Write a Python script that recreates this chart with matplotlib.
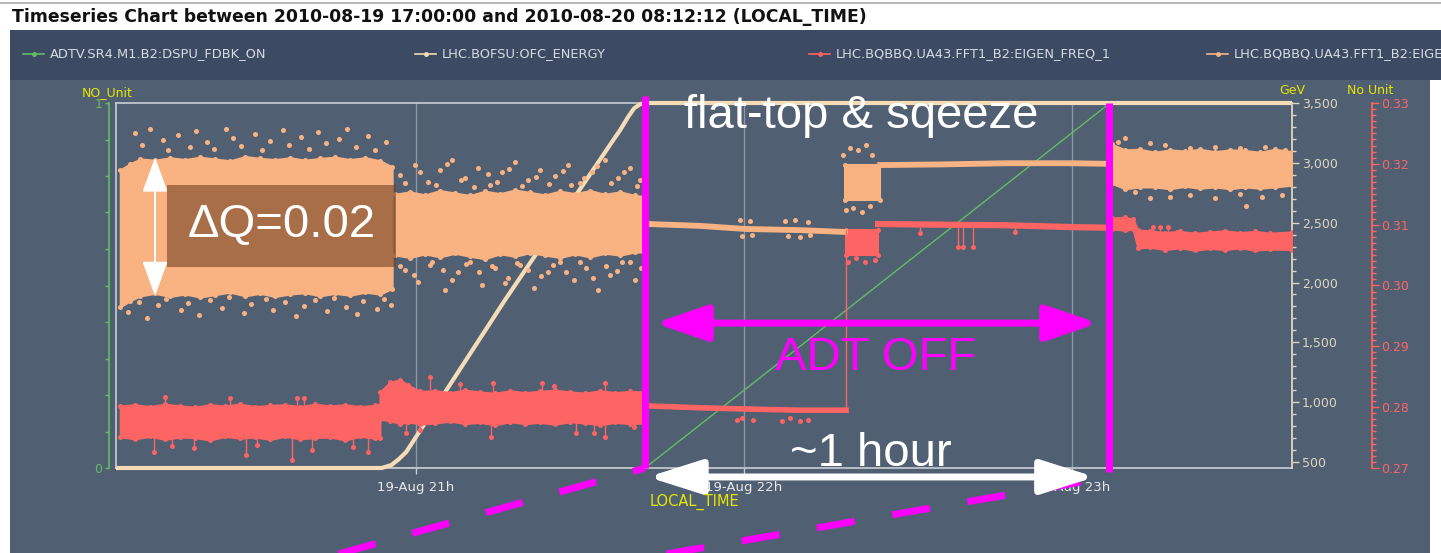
import numpy as np
import matplotlib
matplotlib.use("Agg")
import matplotlib.pyplot as plt
from matplotlib.lines import Line2D
from matplotlib.patches import Rectangle, FancyArrowPatch
from matplotlib.ticker import MultipleLocator, FixedLocator

## colours
PANEL    = "#515f73"
BAND     = "#3c4a63"
FRAME    = "#c9ced6"
GRID     = "#8e97a6"
YELLOW   = "#e6e600"
GREEN    = "#63bd63"
CREAM    = "#f3dcb6"
CREAM_AX = "#ddd6bf"
RED      = "#fd6464"
ORANGE   = "#f9b383"
MAGENTA  = "#ff00ff"
BIG_FONT = "Liberation Sans"

TITLE = "Timeseries Chart between 2010-08-19 17:00:00 and 2010-08-20 08:12:12 (LOCAL_TIME)"
SERIES = ["ADTV.SR4.M1.B2:DSPU_FDBK_ON", "LHC.BOFSU:OFC_ENERGY",
          "LHC.BQBBQ.UA43.FFT1_B2:EIGEN_FREQ_1", "LHC.BQBBQ.UA43.FFT1_B2:EIGEN_FREQ_2"]
SERIES_COLORS = [GREEN, CREAM, RED, ORANGE]

## time axis: hours of 19-Aug, local time
XLIM = (20.085, 23.671)
XTICKS = [21, 22, 23]
XTICK_LABELS = ["19-Aug 21h", "19-Aug 22h", "19-Aug 23h"]

## LHC.BOFSU:OFC_ENERGY [GeV]
ENERGY_T   = [20.085, 20.895, 20.925, 20.948, 20.970, 21.271, 21.601, 21.622, 21.646, 21.665, 21.683, 21.698, 23.671]
ENERGY_GEV = [450, 450, 475, 525, 584, 1853, 3189, 3272, 3381, 3456, 3490, 3500, 3500]

## ADTV.SR4.M1.B2:DSPU_FDBK_ON
FDBK_T  = [20.085, 21.698, 23.116, 23.671]
FDBK_ON = [0, 0, 1, 1]

## EIGEN_FREQ_2 (orange): bands are the dense envelope, *_HI/_LO the stray points
QV_A_T   = [20.098, 20.128, 20.159, 20.204, 20.250, 20.296, 20.341, 20.387, 20.433, 20.479,
            20.524, 20.570, 20.616, 20.662, 20.707, 20.753, 20.799, 20.845, 20.890, 20.927]
QV_A_TOP = [0.3190, 0.3200, 0.3208, 0.3206, 0.3210, 0.3207, 0.3211, 0.3208, 0.3205, 0.3212,
            0.3209, 0.3207, 0.3210, 0.3206, 0.3209, 0.3211, 0.3207, 0.3210, 0.3205, 0.3195]
QV_A_BOT = [0.2965, 0.2975, 0.2983, 0.2987, 0.2982, 0.2986, 0.2981, 0.2985, 0.2989, 0.2983,
            0.2987, 0.2982, 0.2986, 0.2988, 0.2983, 0.2987, 0.2984, 0.2989, 0.2986, 0.2995]
QV_A_HI_T = [20.143, 20.165, 20.189, 20.229, 20.244, 20.274, 20.311, 20.329, 20.363, 20.384,
             20.421, 20.442, 20.466, 20.509, 20.530, 20.555, 20.595, 20.613, 20.649, 20.674,
             20.701, 20.726, 20.765, 20.790, 20.817, 20.854, 20.875, 20.909]
QV_A_HI_Q = [0.3250, 0.3231, 0.3258, 0.3239, 0.3222, 0.3247, 0.3227, 0.3254, 0.3236, 0.3224,
             0.3257, 0.3242, 0.3229, 0.3249, 0.3222, 0.3237, 0.3255, 0.3231, 0.3244, 0.3224,
             0.3252, 0.3234, 0.3240, 0.3258, 0.3227, 0.3245, 0.3222, 0.3236]
QV_A_LO_T = [20.122, 20.155, 20.180, 20.213, 20.238, 20.284, 20.305, 20.338, 20.372, 20.409,
             20.430, 20.476, 20.497, 20.543, 20.564, 20.601, 20.634, 20.659, 20.692, 20.729,
             20.750, 20.787, 20.820, 20.838, 20.881, 20.902, 20.924]
QV_A_LO_Q = [0.2956, 0.2973, 0.2946, 0.2968, 0.2978, 0.2960, 0.2971, 0.2951, 0.2976, 0.2963,
             0.2981, 0.2955, 0.2969, 0.2978, 0.2960, 0.2973, 0.2950, 0.2966, 0.2976, 0.2958,
             0.2979, 0.2964, 0.2953, 0.2974, 0.2961, 0.2978, 0.2968]

QV_B_T   = [20.936, 20.982, 21.027, 21.073, 21.119, 21.165, 21.210, 21.256, 21.302,
            21.348, 21.393, 21.439, 21.485, 21.530, 21.576, 21.622, 21.668, 21.698]
QV_B_TOP = [0.3150, 0.3154, 0.3149, 0.3156, 0.3152, 0.3148, 0.3155, 0.3151, 0.3157,
            0.3153, 0.3149, 0.3155, 0.3151, 0.3156, 0.3150, 0.3154, 0.3148, 0.3146]
QV_B_BOT = [0.3050, 0.3046, 0.3052, 0.3047, 0.3053, 0.3048, 0.3044, 0.3052, 0.3048,
            0.3054, 0.3050, 0.3046, 0.3052, 0.3047, 0.3053, 0.3050, 0.3055, 0.3055]
QV_B_HI_T = [20.951, 20.997, 21.037, 21.073, 21.110, 21.149, 21.189, 21.226, 21.262, 21.302,
             21.341, 21.378, 21.424, 21.463, 21.500, 21.537, 21.576, 21.616, 21.652, 21.683,
             20.966, 21.012, 21.061, 21.095, 21.137, 21.177, 21.220, 21.247, 21.284, 21.323,
             21.366, 21.405, 21.448, 21.473, 21.512, 21.552, 21.595, 21.634, 21.674]
QV_B_HI_Q = [0.3181, 0.3198, 0.3170, 0.3190, 0.3206, 0.3176, 0.3193, 0.3165, 0.3186, 0.3203,
             0.3173, 0.3190, 0.3180, 0.3198, 0.3168, 0.3186, 0.3206, 0.3176, 0.3193, 0.3173,
             0.3168, 0.3186, 0.3165, 0.3199, 0.3173, 0.3162, 0.3183, 0.3170, 0.3191, 0.3163,
             0.3178, 0.3167, 0.3188, 0.3165, 0.3176, 0.3196, 0.3168, 0.3186, 0.3163]
QV_B_LO_T = [20.966, 21.006, 21.043, 21.088, 21.128, 21.165, 21.201, 21.241, 21.280, 21.317,
             21.360, 21.402, 21.439, 21.482, 21.518, 21.555, 21.591, 21.628, 21.668,
             20.951, 20.994, 21.049, 21.082, 21.110, 21.152, 21.192, 21.232, 21.271, 21.308,
             21.341, 21.381, 21.418, 21.457, 21.500, 21.540, 21.579, 21.613, 21.652, 21.686]
QV_B_LO_Q = [0.3025, 0.3006, 0.3033, 0.2992, 0.3022, 0.3038, 0.3001, 0.3029, 0.3012, 0.3033,
             0.2996, 0.3022, 0.3038, 0.3009, 0.3029, 0.2992, 0.3017, 0.3038, 0.3009,
             0.3032, 0.3017, 0.3038, 0.3025, 0.3009, 0.3035, 0.3022, 0.3032, 0.3004, 0.3037,
             0.3025, 0.3015, 0.3033, 0.3022, 0.3038, 0.3012, 0.3032, 0.3024, 0.3038, 0.3028]

QV_C_T = [21.713, 21.866, 22.003, 22.171, 22.308]
QV_C_Q = [0.3101, 0.3098, 0.3093, 0.3091, 0.3088]
QV_C_DOT_T = [21.988, 21.994, 22.018, 22.024, 22.125, 22.134, 22.155, 22.171, 22.195, 22.201]
QV_C_DOT_Q = [0.3107, 0.3081, 0.3106, 0.3083, 0.3106, 0.3081, 0.3107, 0.3079, 0.3104, 0.3083]

QV_D_T   = [22.308, 22.415]
QV_D_TOP = [0.3198, 0.3198]
QV_D_BOT = [0.3140, 0.3140]
QV_D_DOT_T = [22.302, 22.323, 22.348, 22.372, 22.390, 22.311, 22.332, 22.360, 22.384]
QV_D_DOT_Q = [0.3214, 0.3226, 0.3222, 0.3231, 0.3214, 0.3124, 0.3127, 0.3121, 0.3130]

QV_E_T = [22.415, 22.600, 22.800, 23.000, 23.110]
QV_E_Q = [0.3198, 0.3199, 0.3201, 0.3201, 0.3200]

QV_F_T   = [23.122, 23.162, 23.207, 23.253, 23.299, 23.345, 23.390, 23.436, 23.482, 23.527, 23.573, 23.619, 23.671]
QV_F_TOP = [0.3232, 0.3223, 0.3224, 0.3219, 0.3223, 0.3221, 0.3224, 0.3220, 0.3223, 0.3222, 0.3219, 0.3224, 0.3220]
QV_F_BOT = [0.3168, 0.3159, 0.3162, 0.3162, 0.3159, 0.3163, 0.3160, 0.3162, 0.3159, 0.3162, 0.3160, 0.3162, 0.3165]
QV_F_DOT_T = [23.140, 23.162, 23.238, 23.284, 23.360, 23.436, 23.512, 23.588, 23.649,
              23.192, 23.238, 23.299, 23.360, 23.436, 23.512, 23.579, 23.640, 23.530]
QV_F_DOT_Q = [0.3236, 0.3242, 0.3234, 0.3231, 0.3226, 0.3227, 0.3226, 0.3227, 0.3222,
              0.3153, 0.3144, 0.3145, 0.3148, 0.3144, 0.3150, 0.3145, 0.3148, 0.3130]

## EIGEN_FREQ_1 (red)
QH_A_T   = [20.098, 20.143, 20.189, 20.235, 20.280, 20.326, 20.372, 20.418, 20.463, 20.509,
            20.555, 20.601, 20.646, 20.692, 20.738, 20.784, 20.829, 20.875, 20.890]
QH_A_TOP = [0.2802, 0.2804, 0.2801, 0.2805, 0.2802, 0.2800, 0.2804, 0.2802, 0.2805, 0.2801,
            0.2803, 0.2804, 0.2801, 0.2805, 0.2802, 0.2804, 0.2801, 0.2803, 0.2803]
QH_A_BOT = [0.2751, 0.2748, 0.2752, 0.2747, 0.2751, 0.2750, 0.2746, 0.2752, 0.2749, 0.2751,
            0.2747, 0.2752, 0.2748, 0.2750, 0.2751, 0.2746, 0.2752, 0.2749, 0.2750]
QH_A_SPK_T = [20.201, 20.256, 20.323, 20.482, 20.515, 20.622, 20.683, 20.808, 20.854,
              20.235, 20.637, 20.659, 20.433]
QH_A_SPK_Q = [0.2726, 0.2736, 0.2733, 0.2721, 0.2738, 0.2713, 0.2730, 0.2735, 0.2726,
              0.2817, 0.2815, 0.2815, 0.2815]

QH_B_T   = [20.890, 20.921, 20.951, 20.976, 21.012, 21.058, 21.104, 21.149, 21.195, 21.241,
            21.287, 21.332, 21.378, 21.424, 21.470, 21.515, 21.561, 21.607, 21.652, 21.698]
QH_B_TOP = [0.2825, 0.2841, 0.2845, 0.2836, 0.2826, 0.2827, 0.2824, 0.2828, 0.2825, 0.2823,
            0.2827, 0.2824, 0.2826, 0.2828, 0.2825, 0.2823, 0.2827, 0.2824, 0.2826, 0.2825]
QH_B_BOT = [0.2780, 0.2778, 0.2773, 0.2776, 0.2772, 0.2774, 0.2777, 0.2773, 0.2775, 0.2771,
            0.2776, 0.2773, 0.2775, 0.2772, 0.2776, 0.2774, 0.2771, 0.2775, 0.2773, 0.2774]
QH_B_SPK_T = [21.235, 21.384, 21.576, 21.421, 21.043, 21.134,
              20.970, 21.012, 21.229, 21.488, 21.543, 21.576, 21.665]
QH_B_SPK_Q = [0.2840, 0.2840, 0.2840, 0.2835, 0.2850, 0.2838,
              0.2758, 0.2763, 0.2751, 0.2758, 0.2758, 0.2751, 0.2767]

QH_C_T = [21.713, 21.866, 22.003, 22.171, 22.311]
QH_C_Q = [0.2802, 0.2799, 0.2797, 0.2795, 0.2795]
QH_C_DOT_T = [21.979, 21.994, 22.027, 22.116, 22.140, 22.171, 22.195]
QH_C_DOT_Q = [0.2779, 0.2782, 0.2779, 0.2777, 0.2782, 0.2777, 0.2779]

QH_D_T   = [22.311, 22.409]
QH_D_TOP = [0.3091, 0.3091]
QH_D_BOT = [0.3050, 0.3050]
QH_D_DOT_T = [22.317, 22.341, 22.369, 22.399]
QH_D_DOT_Q = [0.3038, 0.3045, 0.3038, 0.3042]

QH_E_T = [22.409, 22.600, 22.800, 23.000, 23.110]
QH_E_Q = [0.3101, 0.3100, 0.3099, 0.3096, 0.3095]
QH_E_SPK_T = [22.652, 22.668, 22.698, 22.537, 22.826]
QH_E_SPK_Q = [0.3063, 0.3063, 0.3063, 0.3086, 0.3088]

QH_F_T   = [23.122, 23.162, 23.186, 23.201, 23.238, 23.284, 23.329, 23.375, 23.421, 23.466, 23.512, 23.558, 23.604, 23.671]
QH_F_TOP = [0.3111, 0.3112, 0.3109, 0.3091, 0.3090, 0.3087, 0.3089, 0.3086, 0.3088, 0.3090, 0.3087, 0.3089, 0.3086, 0.3088]
QH_F_BOT = [0.3093, 0.3091, 0.3093, 0.3062, 0.3063, 0.3059, 0.3062, 0.3058, 0.3061, 0.3059, 0.3062, 0.3058, 0.3060, 0.3059]
QH_F_SPK_T = [23.247, 23.268, 23.293, 23.320]
QH_F_SPK_Q = [0.3096, 0.3096, 0.3096, 0.3088]

## ADT switched off between these two times
T_ADT_OFF = 21.698
T_ADT_ON  = 23.113

W, H = 1441, 553
plt.rcParams["font.family"] = "DejaVu Sans"

fig = plt.figure(figsize=(W / 100, H / 100), dpi=100)
fig.patch.set_facecolor("white")

# window chrome: panel, legend strip, title
fig.add_artist(Rectangle((10 / W, 0), 1420 / W, 473 / H, transform=fig.transFigure,
                         facecolor=PANEL, edgecolor="none", zorder=-10))
fig.add_artist(Rectangle((10 / W, 1 - 80 / H), 1431 / W, 50 / H, transform=fig.transFigure,
                         facecolor=BAND, edgecolor="none", zorder=-9))
fig.add_artist(Line2D([0, 1], [1 - 3 / H] * 2, color="#a9a9a9", lw=1.2))
fig.text(12 / W, 1 - 17 / H, TITLE, fontsize=12.4, fontweight="bold", color="#111111", va="center")

LEGEND_X = [23, 415, 809, 1207]
for x0, name, col in zip(LEGEND_X, SERIES, SERIES_COLORS):
    yl = 1 - 54 / H
    fig.add_artist(Line2D([x0 / W, (x0 + 21) / W], [yl, yl], color=col, lw=1.2))
    fig.add_artist(Line2D([(x0 + 10.5) / W], [yl], color=col, marker="o", ms=2.5, lw=0))
    fig.text((x0 + 27) / W, yl, name, fontsize=9.4, color="#d6dae1", va="center")

# main axes: left scale 0..1 for the feedback flag
ax = fig.add_axes([116 / W, 1 - 468 / H, 1176 / W, 365 / H])
ax.set_facecolor("none")
ax.set_xlim(*XLIM)
ax.set_ylim(0, 1)
ax.spines["left"].set_position(("outward", 5))
ax.spines["left"].set_color(GREEN)
ax.spines["left"].set_linewidth(1.2)
ax.spines["right"].set_visible(False)
for side in ["top", "bottom"]:
    ax.spines[side].set_color(FRAME)
    ax.spines[side].set_linewidth(1.2)
ax.plot([0, 0], [0, 1], transform=ax.transAxes, color=FRAME, lw=1.2, clip_on=False)
ax.set_yticks([0, 1], ["0", "1"])
ax.yaxis.set_minor_locator(MultipleLocator(0.1))
ax.tick_params(axis="y", which="both", colors=GREEN, length=3, width=1, labelsize=9, pad=2)
ax.set_xticks(XTICKS, XTICK_LABELS)
ax.tick_params(axis="x", colors=FRAME, labelcolor="#e8e8e8", length=4.5, width=1, labelsize=9.5, pad=5)
ax.grid(axis="x", color=GRID, lw=1)
ax.set_axisbelow(True)
ax.plot(FDBK_T, FDBK_ON, color=GREEN, lw=1)

# energy on the first right axis
ax_e = ax.twinx()
ax_e.set_ylim(450, 3500)
for side in ["left", "top", "bottom"]:
    ax_e.spines[side].set_visible(False)
ax_e.spines["right"].set_color(CREAM_AX)
ax_e.spines["right"].set_linewidth(1.3)
ax_e.yaxis.set_major_locator(FixedLocator(range(500, 3501, 500)))
ax_e.yaxis.set_major_formatter(lambda v, pos: f"{v:,.0f}")
ax_e.yaxis.set_minor_locator(MultipleLocator(100))
ax_e.tick_params(axis="y", which="major", colors=CREAM_AX, length=5, width=1, labelsize=9, pad=2)
ax_e.tick_params(axis="y", which="minor", colors=CREAM_AX, length=3, width=1)
ax_e.plot(ENERGY_T, ENERGY_GEV, color=CREAM, lw=3, clip_on=False, solid_capstyle="butt")

# tunes on the second right axis
ax_q = ax.twinx()
ax_q.set_ylim(0.27, 0.33)
for side in ["left", "top", "bottom"]:
    ax_q.spines[side].set_visible(False)
ax_q.spines["right"].set_position(("outward", 57.5))
ax_q.spines["right"].set_color(RED)
ax_q.spines["right"].set_linewidth(1.3)
ax_q.yaxis.set_major_locator(FixedLocator([0.27, 0.28, 0.29, 0.30, 0.31, 0.32, 0.33]))
ax_q.yaxis.set_major_formatter(lambda v, pos: f"{v:.2f}")
ax_q.yaxis.set_minor_locator(MultipleLocator(0.001))
ax_q.tick_params(axis="y", which="major", colors=RED, length=5, width=1, labelsize=9, pad=2)
ax_q.tick_params(axis="y", which="minor", colors=RED, length=3, width=1)

DOT = 13


def dots(t, q, color):
    ax_q.scatter(t, q, s=DOT, color=color, lw=0)


def band(t, top, bot, color):
    # dense cloud: filled envelope, with the envelope samples dotted for a ragged edge
    ax_q.fill_between(t, bot, top, color=color, lw=1.5)
    dots(t, top, color)
    dots(t, bot, color)


def spikes(t, q, bt, btop, bbot, color):
    mid = np.interp(t, bt, (np.array(btop) + np.array(bbot)) / 2)
    ax_q.vlines(t, mid, q, color=color, lw=1)
    dots(t, q, color)


# EIGEN_FREQ_2
band(QV_A_T, QV_A_TOP, QV_A_BOT, ORANGE)
dots(QV_A_HI_T, QV_A_HI_Q, ORANGE)
dots(QV_A_LO_T, QV_A_LO_Q, ORANGE)
band(QV_B_T, QV_B_TOP, QV_B_BOT, ORANGE)
dots(QV_B_HI_T, QV_B_HI_Q, ORANGE)
dots(QV_B_LO_T, QV_B_LO_Q, ORANGE)
ax_q.plot(QV_C_T, QV_C_Q, color=ORANGE, lw=4.2)
dots(QV_C_DOT_T, QV_C_DOT_Q, ORANGE)
band(QV_D_T, QV_D_TOP, QV_D_BOT, ORANGE)
dots(QV_D_DOT_T, QV_D_DOT_Q, ORANGE)
ax_q.plot(QV_E_T, QV_E_Q, color=ORANGE, lw=4.2)
band(QV_F_T, QV_F_TOP, QV_F_BOT, ORANGE)
dots(QV_F_DOT_T, QV_F_DOT_Q, ORANGE)

# EIGEN_FREQ_1
spikes(QH_A_SPK_T, QH_A_SPK_Q, QH_A_T, QH_A_TOP, QH_A_BOT, RED)
band(QH_A_T, QH_A_TOP, QH_A_BOT, RED)
spikes(QH_B_SPK_T, QH_B_SPK_Q, QH_B_T, QH_B_TOP, QH_B_BOT, RED)
band(QH_B_T, QH_B_TOP, QH_B_BOT, RED)
ax_q.plot(QH_C_T, QH_C_Q, color=RED, lw=4)
dots(QH_C_DOT_T, QH_C_DOT_Q, RED)
ax_q.plot([QH_D_T[0], QH_D_T[0]], [QH_C_Q[-1], QH_D_TOP[0]], color=RED, lw=1)
band(QH_D_T, QH_D_TOP, QH_D_BOT, RED)
dots(QH_D_DOT_T, QH_D_DOT_Q, RED)
spikes(QH_E_SPK_T, QH_E_SPK_Q, QH_E_T, QH_E_Q, QH_E_Q, RED)
ax_q.plot(QH_E_T, QH_E_Q, color=RED, lw=4.5)
spikes(QH_F_SPK_T, QH_F_SPK_Q, QH_F_T, QH_F_TOP, QH_F_BOT, RED)
band(QH_F_T, QH_F_TOP, QH_F_BOT, RED)

# axis unit captions
fig.text(82 / W, 1 - 93 / H, "NO_Unit", fontsize=9, color=YELLOW, va="center")
fig.text(1279 / W, 1 - 91 / H, "GeV", fontsize=9, color=YELLOW, va="center")
fig.text(1347 / W, 1 - 91 / H, "No Unit", fontsize=9, color=YELLOW, va="center")
fig.text(650 / W, 1 - 502 / H, "LOCAL_TIME", fontsize=10.5, color=YELLOW, va="center")

# overlay for the hand-drawn annotations (x in hours, y in axes fraction)
ov = fig.add_axes(ax.get_position(), sharex=ax)
ov.set_ylim(0, 1)
ov.axis("off")


def darrow(p0, p1, color, lw, hl, hw):
    ov.add_patch(FancyArrowPatch(p0, p1, arrowstyle=f"<|-|>,head_length={hl},head_width={hw}",
                                 color=color, lw=lw, mutation_scale=1, shrinkA=0, shrinkB=0,
                                 clip_on=False, zorder=6))


ov.add_patch(Rectangle((20.241, 0.5502), 0.698, 0.2245, facecolor=(0.45, 0.25, 0.12),
                       alpha=0.6, edgecolor="none", zorder=3))
darrow((20.204, 0.8514), (20.204, 0.4709), "white", 1.4, 22, 8)
ov.text(20.302, 0.6324, "\u0394Q=0.02", fontsize=34, family=BIG_FONT, color="white",
        va="baseline", zorder=7)

ov.plot([T_ADT_OFF, T_ADT_OFF], [0, 1.018], color=MAGENTA, lw=5, clip_on=False,
        solid_capstyle="butt", zorder=5)
ov.plot([T_ADT_ON, T_ADT_ON], [-0.011, 1.0], color=MAGENTA, lw=5, clip_on=False,
        solid_capstyle="butt", zorder=5)
ov.plot([20.723, T_ADT_OFF], [-0.246, 0], color=MAGENTA, lw=5, ls=(0, (5.5, 5.5)),
        clip_on=False, dash_capstyle="butt", zorder=5)
ov.plot([21.729, 23.101], [-0.241, -0.027], color=MAGENTA, lw=5, ls=(0, (5.5, 5.5)),
        clip_on=False, dash_capstyle="butt", zorder=5)

ov.text(21.817, 0.9308, "flat-top & sqeeze", fontsize=34, family=BIG_FONT, color="white",
        va="baseline", zorder=7)
darrow((21.729, 0.3969), (23.079, 0.3969), MAGENTA, 5, 32, 11)
ov.text(22.0945, 0.2683, "ADT OFF", fontsize=34, family=BIG_FONT, color=MAGENTA,
        va="baseline", zorder=7)
darrow((21.707, -0.0246), (23.070, -0.0246), "white", 5, 33, 10.5)
ov.text(22.140, 0.0055, "~1 hour", fontsize=34, family=BIG_FONT, color="white",
        va="baseline", zorder=7)

fig.savefig("out.png", dpi=100, facecolor=fig.get_facecolor())
